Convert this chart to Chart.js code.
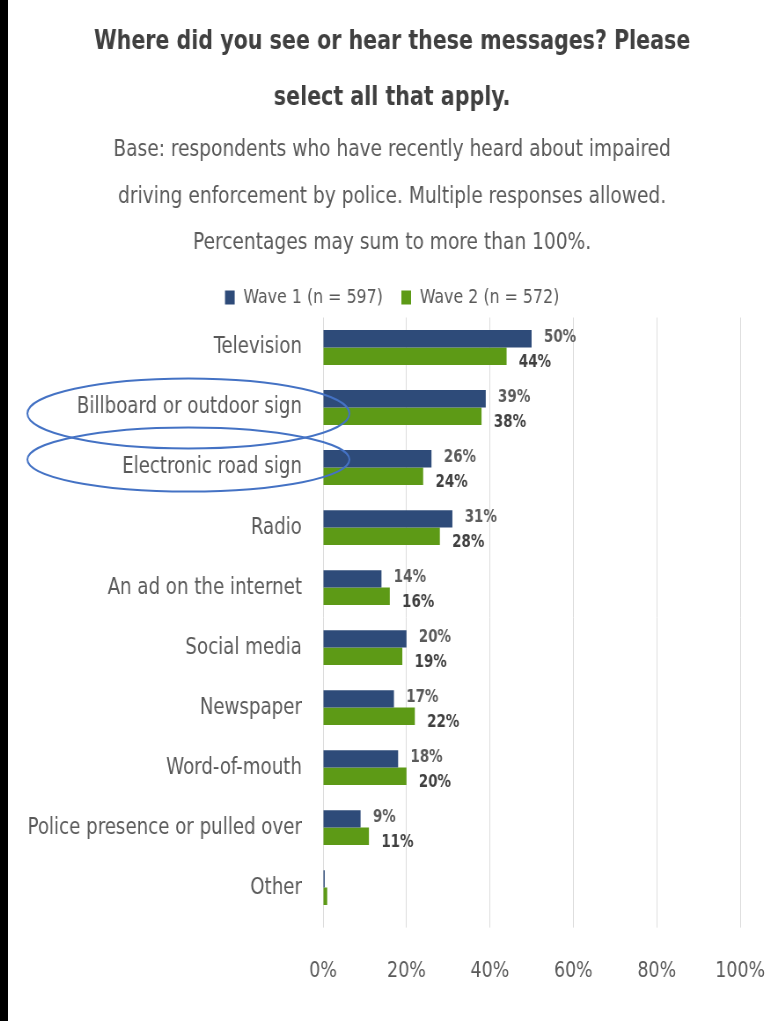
<!DOCTYPE html>
<html>
<head>
<meta charset="utf-8">
<script src="https://cdn.jsdelivr.net/npm/chart.js@4"></script>
<style>
    html, body { margin: 0; padding: 0; background: #fff; overflow: hidden; }
    /* the source picture is squeezed sideways, so the canvas is drawn wider and narrowed */
    #wrap { position: absolute; left: 8px; top: 0; width: 873px; height: 1021px;
            transform: scaleX(0.88); transform-origin: 0 0; }
    #sourceChart { display: block; width: 873px; height: 1021px; }
    #edge { position: absolute; left: 0; top: 0; width: 8px; height: 1021px; background: #000; z-index: 2; }
</style>
</head>
<body>
<div id="edge"></div>
<div id="wrap"><canvas id="sourceChart" width="873" height="1021"></canvas></div>
<script>
// Chart data
const categories = ['Television', 'Billboard or outdoor sign', 'Electronic road sign', 'Radio',
    'An ad on the internet', 'Social media', 'Newspaper', 'Word-of-mouth',
    'Police presence or pulled over', 'Other'];
const wave1 = [50, 39, 26, 31, 14, 20, 17, 18, 9, 0.4];
const wave2 = [44, 38, 24, 28, 16, 19, 22, 20, 11, 1];
const seriesNames = ['Wave 1 (n = 597)', 'Wave 2 (n = 572)'];
const xTicks = [0, 20, 40, 60, 80, 100];
const circled = ['Billboard or outdoor sign', 'Electronic road sign'];

const FONT = "'DejaVu Sans Condensed', 'DejaVu Sans', sans-serif";

// value labels next to each bar end
const valueLabels = {
    id: 'valueLabels',
    afterDatasetsDraw(chart) {
        const ctx = chart.ctx;
        ctx.save();
        ctx.font = 'bold 17px ' + FONT;
        ctx.textBaseline = 'middle';
        ctx.textAlign = 'left';
        chart.data.datasets.forEach((ds, i) => {
            chart.getDatasetMeta(i).data.forEach((bar, j) => {
                const v = ds.data[j];
                if (v < 2) return;
                ctx.fillStyle = i === 0 ? '#5a5a5a' : '#404040';
                ctx.fillText(Math.round(v) + '%', bar.x + 14, bar.y + (i === 0 ? -1 : 6));
            });
        });
        ctx.restore();
    }
};

// blue rings drawn around two of the category labels
const rings = {
    id: 'rings',
    afterDraw(chart) {
        const ctx = chart.ctx;
        const y = chart.scales.y;
        const cx = chart.chartArea.left - 153;
        ctx.save();
        ctx.strokeStyle = '#4472c4';
        ctx.lineWidth = 2;
        circled.forEach((name, k) => {
            const cy = y.getPixelForValue(categories.indexOf(name)) + (k === 0 ? 6 : -8);
            ctx.beginPath();
            ctx.ellipse(cx, cy, 183, k === 0 ? 35 : 32, 0, 0, Math.PI * 2);
            ctx.stroke();
        });
        ctx.restore();
    }
};

document.addEventListener('DOMContentLoaded', function() {
    const ctx = document.getElementById('sourceChart').getContext('2d');
    new Chart(ctx, {
        type: 'bar',
        data: {
            labels: categories,
            datasets: [
                { label: seriesNames[0], data: wave1, backgroundColor: '#2e4b79' },
                { label: seriesNames[1], data: wave2, backgroundColor: '#5d9a16' }
            ]
        },
        options: {
            indexAxis: 'y',
            responsive: false,
            devicePixelRatio: 1,
            animation: false,
            categoryPercentage: 0.58,
            barPercentage: 1.0,
            layout: { padding: { top: 0, right: 0, bottom: 7, left: 0 } },
            plugins: {
                title: {
                    display: true,
                    text: ['Where did you see or hear these messages? Please', 'select all that apply.'],
                    color: '#404040',
                    font: { family: FONT, size: 26, weight: 'bold', lineHeight: 56 / 26 },
                    padding: { top: 14, bottom: 1 }
                },
                subtitle: {
                    display: true,
                    text: ['Base: respondents who have recently heard about impaired',
                           'driving enforcement by police. Multiple responses allowed.',
                           'Percentages may sum to more than 100%.'],
                    color: '#595959',
                    font: { family: FONT, size: 23.5, lineHeight: 46.5 / 23.5 },
                    padding: { top: 0, bottom: 0 }
                },
                legend: {
                    display: true,
                    labels: {
                        color: '#595959',
                        font: { family: FONT, size: 20 },
                        boxWidth: 11,
                        boxHeight: 14,
                        padding: 21
                    }
                },
                tooltip: { enabled: false }
            },
            scales: {
                x: {
                    min: 0,
                    max: 100,
                    afterBuildTicks(scale) { scale.ticks = xTicks.map(v => ({ value: v })); },
                    afterFit(scale) { scale.paddingRight = 41; },
                    grid: { color: '#dcdcdc', tickLength: 10, drawTicks: true, tickColor: '#dcdcdc' },
                    border: { display: false },
                    ticks: {
                        color: '#595959',
                        font: { family: FONT, size: 22 },
                        padding: 30,
                        maxRotation: 0,
                        callback: v => v + '%'
                    }
                },
                y: {
                    afterFit(scale) { scale.width = 358; },
                    grid: { display: false, drawTicks: false },
                    border: { display: false },
                    ticks: {
                        color: '#595959',
                        font: { family: FONT, size: 23 },
                        padding: 24,
                        autoSkip: false
                    }
                }
            }
        },
        plugins: [valueLabels, rings]
    });
});
</script>
</body>
</html>
